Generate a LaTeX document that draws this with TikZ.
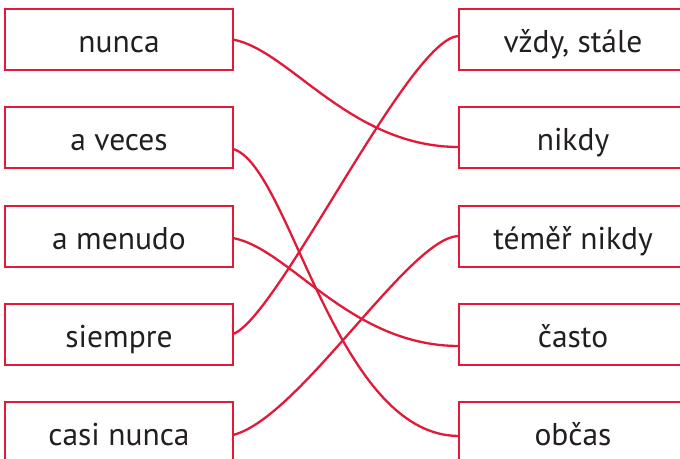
\documentclass[tikz,border=0pt]{standalone}
\usepackage{fontspec}
\setmainfont{PT Sans}
\definecolor{crim}{RGB}{226,26,58}
\definecolor{ink}{RGB}{35,31,32}
\begin{document}
\begin{tikzpicture}[x=1pt,y=-1pt,
  box/.style={draw=crim,line width=2pt,inner sep=0pt,outer sep=0pt,minimum height=61pt,
    minimum width=228pt,text height=26pt,text depth=0pt,
    font=\fontsize{31.5}{36}\selectfont,text=ink},
  link/.style={draw=crim,line width=2.3pt}]
\useasboundingbox (0,0) rectangle (680,458);
\begin{scope}
\clip (0,0) rectangle (680,458);
\node[box] (L1) at (119,39.5) {nunca};
\node[box] (L2) at (119,137) {a veces};
\node[box] (L3) at (119,236) {a menudo};
\node[box] (L4) at (119,334) {siempre};
\node[box] (L5) at (119,432.5) {casi nunca};
\node[box] (R1) at (573,39.5) {vždy, stále};
\node[box] (R2) at (573,137) {nikdy};
\node[box] (R3) at (573,236) {téměř nikdy};
\node[box] (R4) at (573,334) {často};
\node[box] (R5) at (573,432.5) {občas};
\path[link] (L1.east) .. controls +(57,11) and +(-109,0) .. ([yshift=-10pt]R2.west);
\path[link] ([yshift=-12pt]L2.east) .. controls +(57,16) and +(-124,0) .. ([yshift=-3.5pt]R5.west);
\path[link] ([yshift=-2pt]L3.east) .. controls +(57,11) and +(-109,0) .. ([yshift=-12pt]R4.west);
\path[link] (L4.east) .. controls +(45,-16) and +(-49,0) .. ([yshift=3.5pt]R1.west);
\path[link] ([yshift=-2.5pt]L5.east) .. controls +(67,-17) and +(-49,0) .. (R3.west);
\end{scope}
\end{tikzpicture}
\end{document}
